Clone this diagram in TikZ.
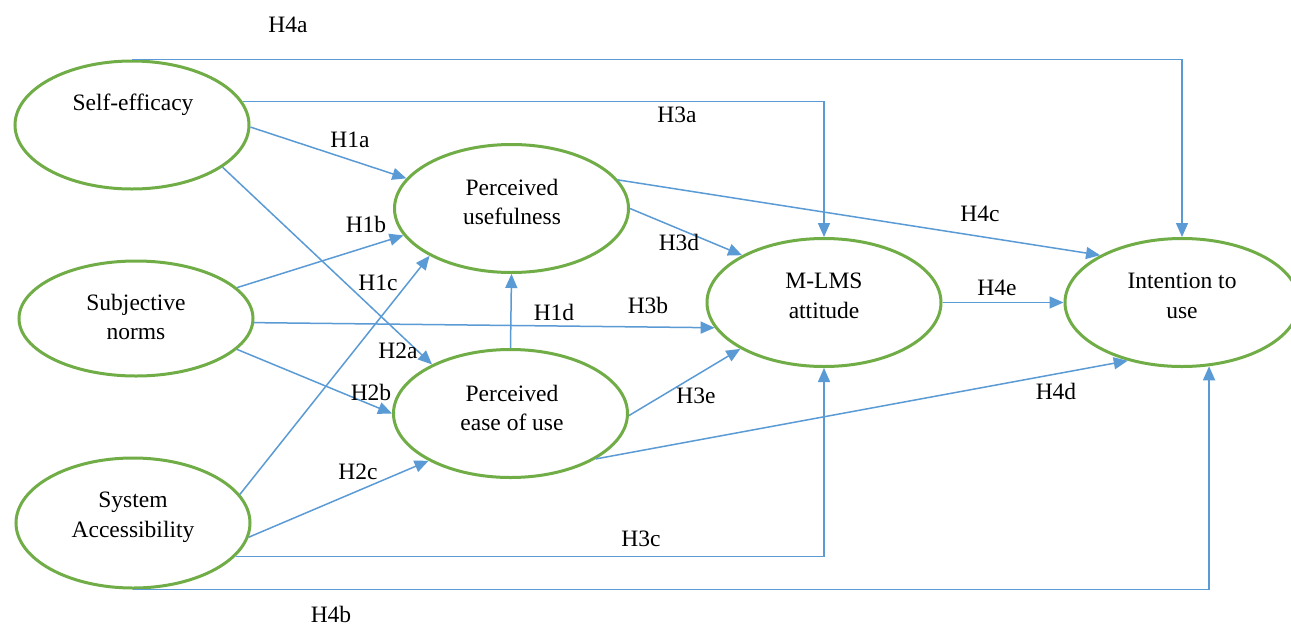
\documentclass[tikz,border=0pt]{standalone}
\usepackage{fontspec}
\setmainfont{Liberation Serif}
\usetikzlibrary{arrows.meta,shapes.geometric}
\definecolor{lineblue}{HTML}{5B9BD5}
\definecolor{ellgreen}{HTML}{70AD47}
\begin{document}
\begin{tikzpicture}[x=1pt,y=-1pt,
  font=\fontsize{23.5}{29.5}\selectfont,
  ell/.style={ellipse, draw=ellgreen, line width=3pt, minimum width=234pt, minimum height=128pt, inner sep=0pt},
  txt/.style={align=center, inner sep=0pt},
  lbl/.style={inner sep=0pt},
  conn/.style={draw=lineblue, line width=1.5pt, -{Triangle[length=14pt,width=12pt]}}]
\clip (0,0) rectangle (1291,627);
\fill[white] (0,0) rectangle (1291,627);
% ellipses
\node[ell] (SE) at (132,125) {};
\node[ell, minimum height=115pt] (SN) at (136,318.5) {};
\node[ell, minimum height=130pt] (SA) at (133,523) {};
\node[ell] (PU) at (511.5,208.5) {};
\node[ell] (PEOU) at (510.5,413.5) {};
\node[ell] (ML) at (824,302.5) {};
\node[ell] (IU) at (1182,302.5) {};
% texts
\node[txt] (SEt) at (133,105) {Self-efficacy};
\node[txt] (SNt) at (136,317) {Subjective\\norms};
\node[txt] (SAt) at (133,517) {System\\Accessibility};
\node[txt] (PUt) at (512,202) {Perceived\\usefulness};
\node[txt] (PEOUt) at (512,408) {Perceived\\ease of use};
\node[txt] (MLt) at (824,296) {M-LMS\\attitude};
\node[txt] (IUt) at (1182,296) {Intention to\\use};
% connectors
\draw[conn] (SE.north) -| (IU.north);
\draw[conn] (SE.12.6) -| (ML.north);
\draw[conn] (SE.-1) -- (PU.164.2);
\draw[conn] (SE.-25.9) -- (PEOU.148);
\draw[conn] (SN.17.2) -- (PU.-166.8);
\draw[conn] (SN.-2) -- (ML.-167.4);
\draw[conn] (SN.-17) -- (PEOU.west);
\draw[conn] (SA.15.8) -- (PU.-150.1);
\draw[conn] (SA.-7.2) -- (PEOU.-150.4);
\draw[conn] (SA.-18.1) -| (ML.south);
\draw[conn] (SA.south) -| (IU.-67.9);
\draw[conn] (PEOU.north) -- (PU.south);
\draw[conn] (PU.east) -- (ML.150.5);
\draw[conn] (PU.15.5) -- (IU.150.5);
\draw[conn] (PEOU.-1) -- (ML.-151);
\draw[conn] (PEOU.-28.3) -- (IU.-133.3);
\draw[conn] (ML.east) -- (IU.west);
% labels
\node[lbl] (L4a) at (288,25) {H4a};
\node[lbl] (L1a) at (350,140) {H1a};
\node[lbl] (L1b) at (366,224) {H1b};
\node[lbl] (L1c) at (378,283) {H1c};
\node[lbl] (L1d) at (554,312) {H1d};
\node[lbl] (L3a) at (677,115) {H3a};
\node[lbl] (L3d) at (679,242) {H3d};
\node[lbl] (L4c) at (980,214) {H4c};
\node[lbl] (L4e) at (997,288) {H4e};
\node[lbl] (L3b) at (648,305) {H3b};
\node[lbl] (L2a) at (398,351) {H2a};
\node[lbl] (L2b) at (371,392) {H2b};
\node[lbl] (L2c) at (358,472) {H2c};
\node[lbl] (L3c) at (641,539) {H3c};
\node[lbl] (L4b) at (331,614) {H4b};
\node[lbl] (L3e) at (696,396) {H3e};
\node[lbl] (L4d) at (1056,391) {H4d};
\end{tikzpicture}
\end{document}
